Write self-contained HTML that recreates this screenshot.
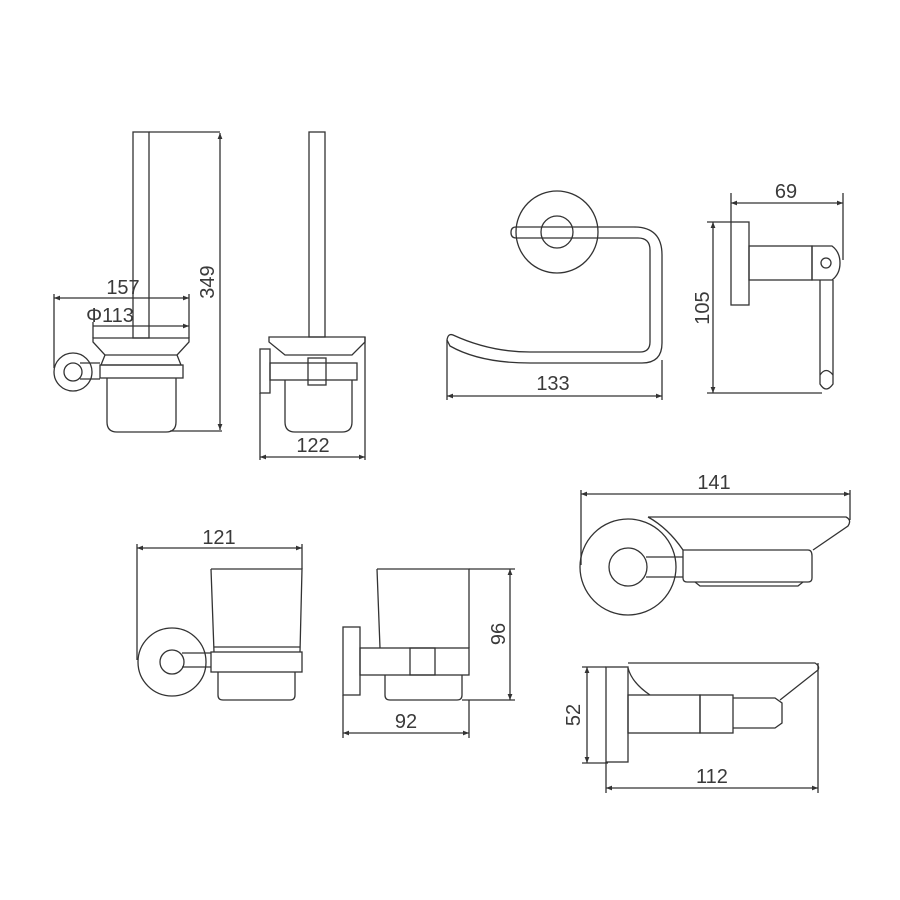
<!DOCTYPE html>
<html><head><meta charset="utf-8"><style>
html,body{margin:0;padding:0;background:#fff;}
svg{display:block;}
text{font-family:"Liberation Sans",sans-serif;font-size:20px;fill:#3a3a3a;}
</style></head><body>
<svg width="900" height="900" viewBox="0 0 900 900" xmlns="http://www.w3.org/2000/svg">
<defs>
<marker id="a" viewBox="0 0 10 10" refX="10" refY="5" markerWidth="9" markerHeight="6" orient="auto-start-reverse" markerUnits="userSpaceOnUse"><path d="M0,1 L10,5 L0,9 Z" fill="#333"/></marker>
</defs>
<g fill="none" stroke="#333" stroke-width="1.3">
<rect x="133" y="132" width="16" height="206"/>
<line x1="149" y1="132" x2="220" y2="132"/>
<line x1="220" y1="133" x2="220" y2="430" marker-start="url(#a)" marker-end="url(#a)"/>
<line x1="170" y1="431" x2="222" y2="431"/>
<line x1="54" y1="298" x2="189" y2="298" marker-start="url(#a)" marker-end="url(#a)"/>
<line x1="54" y1="294" x2="54" y2="368"/>
<line x1="189" y1="294" x2="189" y2="338"/>
<line x1="93" y1="326" x2="189" y2="326" marker-end="url(#a)"/>
<line x1="93" y1="322" x2="93" y2="338"/>
<path d="M93,338 L189,338 L189,342 L177,355 L181,365 L101,365 L105,355 L93,342 Z"/>
<line x1="105" y1="355" x2="177" y2="355"/>
<rect x="100" y="365" width="83" height="13"/>
<path d="M107,378 L107,422 Q107,432 117,432 L166,432 Q176,432 176,422 L176,378"/>
<circle cx="73" cy="372" r="19"/>
<circle cx="73" cy="372" r="9"/>
<path d="M80,363 L100,363 M80,379 L100,379"/>
<rect x="309" y="132" width="16" height="205"/>
<path d="M269,337 L365,337 L365,342 L352,355 L285,355 L269,342 Z"/>
<rect x="260" y="349" width="10" height="44"/>
<rect x="270" y="363" width="87" height="17"/>
<rect x="308" y="358" width="18" height="27"/>
<path d="M285,380 L285,422 Q285,432 295,432 L342,432 Q352,432 352,422 L352,380"/>
<line x1="260" y1="393" x2="260" y2="460"/>
<line x1="365" y1="337" x2="365" y2="460"/>
<line x1="260" y1="457" x2="365" y2="457" marker-start="url(#a)" marker-end="url(#a)"/>
<circle cx="557" cy="232" r="41"/>
<circle cx="557" cy="232" r="16"/>
<path d="M516,227 L634,227 Q662,227 662,255 L662,343 Q662,363 642,363 L530,363 Q480,363 450,346 L447,340 Q448,333 453,335 Q490,352 530,352 L640,352 Q650,352 650,342 L650,250 Q650,238 638,238 L516,238 Q511,238 511,232.5 Q511,227 516,227 Z"/>
<line x1="447" y1="340" x2="447" y2="400"/>
<line x1="662" y1="360" x2="662" y2="400"/>
<line x1="447" y1="396" x2="662" y2="396" marker-start="url(#a)" marker-end="url(#a)"/>
<rect x="731" y="222" width="18" height="83"/>
<rect x="749" y="246" width="63" height="34"/>
<path d="M812,246 L832,246 Q840,252 840,263 Q840,274 832,280 L812,280 Z"/>
<circle cx="826" cy="263" r="5"/>
<path d="M820,280 L820,384 Q826,394 833,384 L833,280"/>
<path d="M820,375 Q826,366 833,375"/>
<line x1="731" y1="193" x2="731" y2="222"/>
<line x1="843" y1="193" x2="843" y2="260"/>
<line x1="731" y1="203" x2="843" y2="203" marker-start="url(#a)" marker-end="url(#a)"/>
<line x1="707" y1="222" x2="731" y2="222"/>
<line x1="707" y1="393" x2="822" y2="393"/>
<line x1="713" y1="222" x2="713" y2="393" marker-start="url(#a)" marker-end="url(#a)"/>
<line x1="137" y1="544" x2="137" y2="660"/>
<line x1="302" y1="544" x2="302" y2="569"/>
<line x1="137" y1="548" x2="302" y2="548" marker-start="url(#a)" marker-end="url(#a)"/>
<circle cx="172" cy="662" r="34"/>
<circle cx="172" cy="662" r="12"/>
<path d="M182,653 L211,653 M182,667 L211,667"/>
<path d="M211,569 L302,569 L300,652 M211,569 L214,652"/>
<line x1="214" y1="647" x2="300" y2="647"/>
<rect x="211" y="652" width="91" height="20"/>
<path d="M218,672 L218,695 Q218,700 223,700 L290,700 Q295,700 295,695 L295,672"/>
<rect x="343" y="627" width="17" height="68"/>
<path d="M377,569 L469,569 L469,648 M377,569 L380,648"/>
<rect x="360" y="648" width="109" height="27"/>
<rect x="410" y="648" width="25" height="27"/>
<path d="M385,675 L385,695 Q385,700 390,700 L457,700 Q462,700 462,695 L462,675"/>
<line x1="469" y1="569" x2="515" y2="569"/>
<line x1="462" y1="700" x2="515" y2="700"/>
<line x1="510" y1="569" x2="510" y2="700" marker-start="url(#a)" marker-end="url(#a)"/>
<line x1="343" y1="695" x2="343" y2="738"/>
<line x1="469" y1="700" x2="469" y2="738"/>
<line x1="343" y1="733" x2="469" y2="733" marker-start="url(#a)" marker-end="url(#a)"/>
<line x1="581" y1="490" x2="581" y2="565"/>
<line x1="850" y1="490" x2="850" y2="520"/>
<line x1="581" y1="494" x2="850" y2="494" marker-start="url(#a)" marker-end="url(#a)"/>
<circle cx="628" cy="567" r="48"/>
<circle cx="628" cy="567" r="19"/>
<path d="M646,557 L683,557 M646,577 L683,577"/>
<path d="M648,517 L846,517 Q852,520 848,526 L813,550 M648,517 Q668,528 683,550"/>
<path d="M683,550 L808,550 Q812,550 812,556 L812,578 Q812,582 808,582 L687,582 Q683,582 683,578 Z"/>
<path d="M695,582 L700,586 L798,586 L803,582"/>
<rect x="606" y="667" width="22" height="95"/>
<path d="M628,663 L815,663 Q820,666 818,670 L780,700 M628,668 Q632,683 650,695"/>
<rect x="628" y="695" width="72" height="38"/>
<rect x="700" y="695" width="33" height="38"/>
<path d="M733,698 L775,698 L782,703 L782,723 L775,728 L733,728"/>
<line x1="582" y1="667" x2="606" y2="667"/>
<line x1="582" y1="763" x2="608" y2="763"/>
<line x1="587" y1="667" x2="587" y2="763" marker-start="url(#a)" marker-end="url(#a)"/>
<line x1="606" y1="762" x2="606" y2="793"/>
<line x1="818" y1="663" x2="818" y2="793"/>
<line x1="606" y1="788" x2="818" y2="788" marker-start="url(#a)" marker-end="url(#a)"/>
</g>
<g>
<text x="123" y="294" text-anchor="middle">157</text>
<text x="110" y="322" text-anchor="middle">Φ113</text>
<text transform="translate(214,282) rotate(-90)" text-anchor="middle">349</text>
<text x="313" y="452" text-anchor="middle">122</text>
<text x="553" y="390" text-anchor="middle">133</text>
<text x="786" y="198" text-anchor="middle">69</text>
<text transform="translate(709,308) rotate(-90)" text-anchor="middle">105</text>
<text x="219" y="544" text-anchor="middle">121</text>
<text transform="translate(505,634) rotate(-90)" text-anchor="middle">96</text>
<text x="406" y="728" text-anchor="middle">92</text>
<text x="714" y="489" text-anchor="middle">141</text>
<text transform="translate(580,715) rotate(-90)" text-anchor="middle">52</text>
<text x="712" y="783" text-anchor="middle">112</text>
</g>
</svg>
</body></html>
